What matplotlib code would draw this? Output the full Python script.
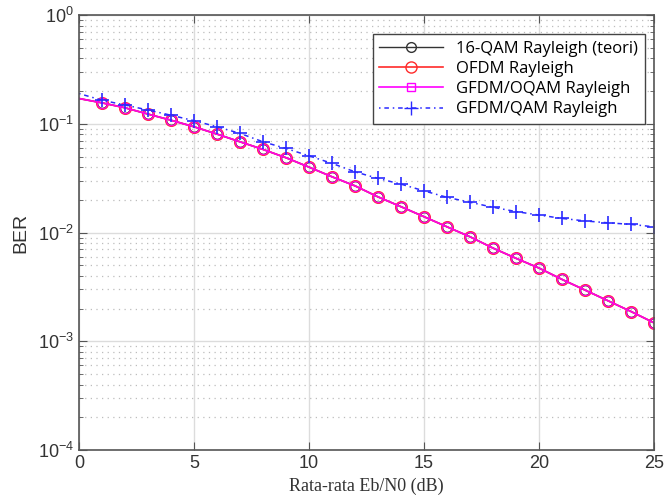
import numpy as np
import matplotlib
matplotlib.use('Agg')
import matplotlib.pyplot as plt
from matplotlib.lines import Line2D
from matplotlib.ticker import LogLocator, NullFormatter

##### Data #####
ebn0 = list(range(0, 26))

# 16-QAM Rayleigh theory / OFDM / GFDM-OQAM all sit on the same curve
ber_theory = [0.171, 0.156, 0.1405, 0.123, 0.108, 0.094, 0.0805, 0.0684, 0.0582,
              0.0488, 0.0400, 0.0326, 0.0269, 0.0213, 0.0173, 0.0140, 0.0113,
              0.00915, 0.0072, 0.0058, 0.00472, 0.00371, 0.00296, 0.00236,
              0.00188, 0.00148]
ber_ofdm = ber_theory
ber_gfdm_oqam = ber_theory

ber_gfdm_qam = [0.19, 0.165, 0.149, 0.134, 0.120, 0.107, 0.094, 0.0817, 0.0684,
                0.0594, 0.0508, 0.0433, 0.0362, 0.0315, 0.0279, 0.0242, 0.0211,
                0.0190, 0.0171, 0.0156, 0.0145, 0.0135, 0.0128, 0.0123, 0.0119,
                0.0113]

labels = ['16-QAM Rayleigh (teori)', 'OFDM Rayleigh', 'GFDM/OQAM Rayleigh',
          'GFDM/QAM Rayleigh']

c_theory = '#333333'
c_ofdm = '#ff2a2a'
c_oqam = '#ff00ff'
c_qam = '#2a2aff'
qam_ls = (0, (1, 2.5, 3, 2.5))

##### Plot #####
fig = plt.figure(figsize=(6.64, 5.04), dpi=100)
ax = fig.add_axes([0.119, 0.107, 0.866, 0.863])

mk = list(range(1, 26))
ax.semilogy(ebn0, ber_theory, '-o', color=c_theory, lw=1.0, ms=7,
            mfc='none', markevery=mk)
ax.semilogy(ebn0, ber_ofdm, '-o', color=c_ofdm, lw=1.2, ms=8,
            mfc='none', mew=1.4, markevery=mk)
# GFDM/OQAM marks are hidden under the OFDM circles in the reference
ax.semilogy(ebn0, ber_gfdm_oqam, '-o', color=c_oqam, lw=1.3, ms=7.5,
            mfc='none', mew=0.9, markevery=mk, alpha=0.85)
ax.semilogy(ebn0, ber_gfdm_qam, linestyle=qam_ls, marker='+',
            color=c_qam, lw=1.1, ms=10, mew=1.2, markevery=mk)

ax.set_xlim(0, 25)
ax.set_ylim(1e-4, 1)
ax.set_xticks([0, 5, 10, 15, 20, 25])
ax.yaxis.set_major_locator(LogLocator(base=10, numticks=10))
ax.yaxis.set_minor_locator(LogLocator(base=10, subs=np.arange(2, 10), numticks=10))
ax.yaxis.set_minor_formatter(NullFormatter())

ax.grid(True, which='major', color='#dcdcdc', lw=1.0)
ax.grid(True, which='minor', axis='y', color='#bdbdbd', lw=0.9,
        linestyle=(0, (1, 3.5)))
ax.set_axisbelow(True)

for s in ax.spines.values():
    s.set_color('#555555')
    s.set_linewidth(1.2)
ax.tick_params(which='both', direction='in', top=True, right=True,
               colors='#555555', labelcolor='#333333', labelsize=13)
ax.tick_params(which='major', length=6)
ax.tick_params(which='minor', length=3)
for lab in ax.get_xticklabels() + ax.get_yticklabels():
    lab.set_family('Liberation Sans')

ax.set_xlabel('Rata-rata Eb/N0 (dB)', fontsize=13, family='Liberation Serif',
              color='#333333', labelpad=4)
ax.set_ylabel('BER', fontsize=14, family='Liberation Sans', color='#333333',
              labelpad=6)

handles = [
    Line2D([], [], color=c_theory, marker='o', mfc='none', ms=7, lw=1.0),
    Line2D([], [], color=c_ofdm, marker='o', mfc='none', ms=8, lw=1.2),
    Line2D([], [], color=c_oqam, marker='s', mfc='none', ms=6, lw=1.2),
    Line2D([], [], color=c_qam, marker='+', ms=10, lw=1.1, linestyle=qam_ls),
]
leg = ax.legend(handles, labels, loc='upper right',
                bbox_to_anchor=(0.998, 0.975),
                prop={'family': 'Open Sans', 'size': 12}, fancybox=False,
                framealpha=1, edgecolor='#444444', handlelength=3.8,
                labelspacing=0.25, borderpad=0.4, handletextpad=0.8)
leg.get_frame().set_linewidth(1.0)

fig.savefig('out.png', dpi=100)
